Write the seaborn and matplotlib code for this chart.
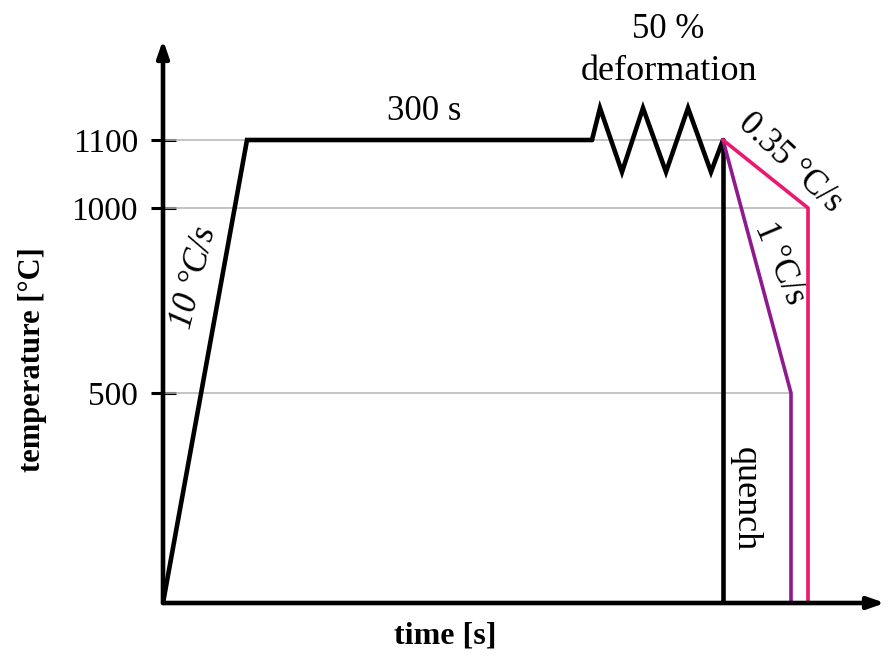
import numpy as np
import pandas as pd
import matplotlib
matplotlib.use("Agg")
import matplotlib.pyplot as plt
import seaborn as sns

# ---- data (schematic time axis in arbitrary units, temperature in °C) ----
heat_time = [0, 84, 429]
heat_temp = [0, 1100, 1100]
deform_time = [429, 437, 459, 480, 503, 525, 548, 560]
deform_temp = [1100, 1147, 1053, 1147, 1053, 1147, 1053, 1100]
quench_time = [560, 560]
quench_temp = [1100, 0]
slow_time = [560, 645, 645]      # 0.35 °C/s to 1000 °C then quench
slow_temp = [1100, 1000, 0]
mid_time = [560, 628, 628]       # 1 °C/s to 500 °C then quench
mid_temp = [1100, 500, 0]
ytick_values = [500, 1000, 1100]
ytick_labels = ["500", "1000", "1100"]
# schematic (non-linear) temperature axis: temperature -> drawn position
scale_temp = [0, 500, 1000, 1100, 1400]
scale_pos = [0, 210, 395, 463, 667]

sns.set_style("white")
plt.rcParams["font.family"] = ["Liberation Serif", "DejaVu Serif"]
plt.rcParams["text.color"] = "black"
plt.rcParams["axes.labelcolor"] = "black"
plt.rcParams["ytick.color"] = "black"

W, H = 889, 660
fig = plt.figure(figsize=(W / 100, H / 100), dpi=100)
x0, y0, x1, y1 = 163, 603, 885, 40
ax = fig.add_axes([x0 / W, (H - y0) / H, (x1 - x0) / W, (y0 - y1) / H])


def fwd(t):
    return np.interp(t, scale_temp, scale_pos)


def inv(d):
    return np.interp(d, scale_pos, scale_temp)


ax.set_yscale("function", functions=(fwd, inv))
ax.set_xlim(0, x1 - x0)
ax.set_ylim(0, inv(y0 - y1))

black = "#000000"
pink = "#EC1870"
purple = "#8E1A8E"

# grid lines ending at the corresponding curve corners
grid_col = "#b4b4b4"
ax.hlines(1100, 0, deform_time[-1], color=grid_col, lw=1.1, zorder=1)
ax.hlines(1000, 0, slow_time[1], color=grid_col, lw=1.1, zorder=1)
ax.hlines(500, 0, mid_time[1], color=grid_col, lw=1.1, zorder=1)

paths = [
    (heat_time, heat_temp, black, 3.3),
    (deform_time, deform_temp, black, 3.3),
    (quench_time, quench_temp, black, 3.3),
    (mid_time, mid_temp, purple, 2.6),
    (slow_time, slow_temp, pink, 2.6),
]
for t, T, c, lw in paths:
    df = pd.DataFrame({"time": t, "temp": T})
    sns.lineplot(data=df, x="time", y="temp", sort=False, estimator=None,
                 color=c, lw=lw, ax=ax, zorder=3, solid_joinstyle="miter")

for s in ax.spines.values():
    s.set_visible(False)

# axes with arrows
for xy in [(0, 1), (1, 0)]:
    ax.annotate("", xy=xy, xytext=(0, 0), xycoords="axes fraction",
                arrowprops=dict(arrowstyle="-|>,head_length=1.0,head_width=0.35",
                                lw=3.3, color="black", shrinkA=0, shrinkB=0))

ax.set_xticks([])
ax.set_yticks(ytick_values)
ax.set_yticklabels(ytick_labels)
ax.tick_params(axis="y", direction="inout", length=18, width=2.2,
               color="black", labelcolor="black", labelsize=24, pad=9,
               left=True)

ax.set_xlabel("time [s]", fontsize=23, fontweight="bold", color="black")
ax.set_ylabel("temperature [°C]", fontsize=22, fontweight="bold", color="black")
ax.xaxis.set_label_coords((445 - x0) / (x1 - x0), -(622 - y0) / (y0 - y1))
ax.yaxis.set_label_coords(-(x0 - 47) / (x1 - x0), (y0 - 360) / (y0 - y1))


def px(x, y):
    return x / W, 1 - y / H


fs = 25
fig.text(*px(424, 112), "300 s", fontsize=fs, ha="center", va="center")
fig.text(*px(668, 30), "50 %", fontsize=fs, ha="center", va="center")
fig.text(*px(669, 72), "deformation", fontsize=26, ha="center", va="center")
fig.text(*px(790, 163), "0.35 °C/s", fontsize=fs, ha="center", va="center",
         rotation=-43, rotation_mode="anchor")
fig.text(*px(780, 263), "1 °C/s", fontsize=fs, ha="center", va="center",
         rotation=-67, rotation_mode="anchor")
fig.text(*px(194, 278), "10 °C/s", fontsize=fs, ha="center", va="center",
         rotation=76, rotation_mode="anchor", style="italic")
fig.text(*px(745, 499), "quench", fontsize=26, ha="center", va="center",
         rotation=-90, rotation_mode="anchor")

fig.savefig("out.png", dpi=100, facecolor="white")
